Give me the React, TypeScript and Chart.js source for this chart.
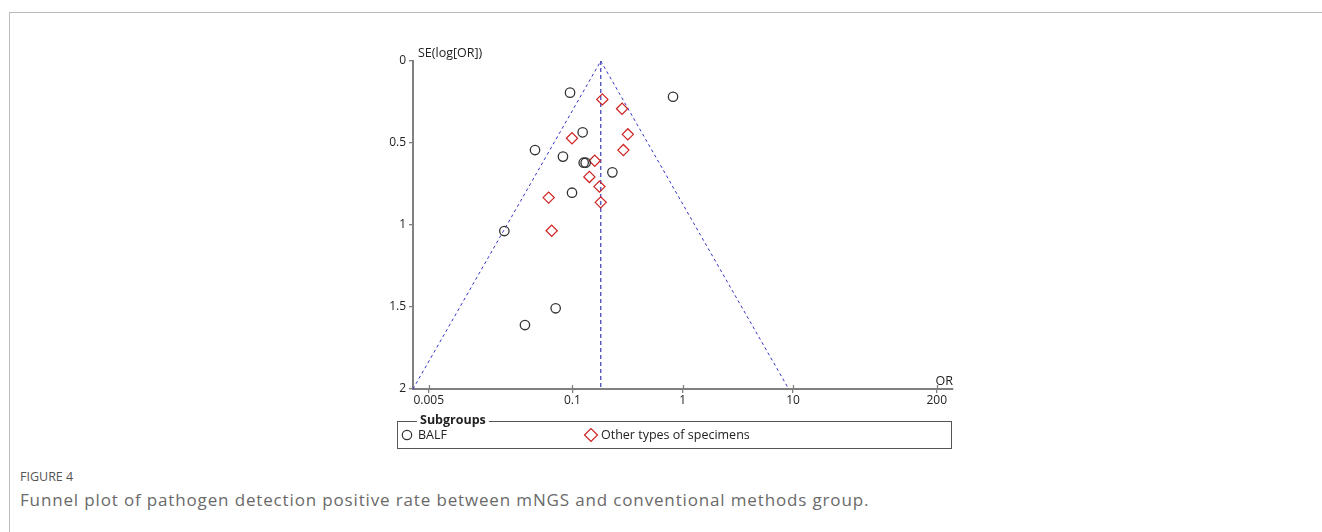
import { useEffect, useRef } from "react";
import { Chart, registerables } from "chart.js";

Chart.register(...registerables);

// ---- data ----
const xTickValues = [0.005, 0.1, 1, 10, 200];
const yTickValues = [0, 0.5, 1, 1.5, 2];
const xTitle = "OR";
const yTitle = "SE(log[OR])";
const legendTitle = "Subgroups";
const seriesNames = ["BALF", "Other types of specimens"];

const balfOR = [0.0953, 0.817, 0.124, 0.0459, 0.0822, 0.1267, 0.132, 0.2305, 0.0993, 0.0242, 0.0706, 0.0372];
const balfSE = [0.193, 0.218, 0.435, 0.543, 0.583, 0.62, 0.62, 0.679, 0.803, 1.037, 1.508, 1.61];

const otherOR = [0.187, 0.282, 0.0993, 0.318, 0.29, 0.1595, 0.1427, 0.176, 0.1807, 0.061, 0.065];
const otherSE = [0.234, 0.291, 0.471, 0.447, 0.543, 0.608, 0.707, 0.766, 0.862, 0.833, 1.035];

const pooledOR = 0.181;
const funnelOR = [0.0036, 0.181, 9.12];
const funnelSE = [2, 0, 2];

const FONT = '"Open Sans", "Noto Sans", sans-serif';
const AXIS_GRAY = "#808080";

const decorPlugin = {
  id: "decor",
  afterDraw(chart: any) {
    const { ctx, chartArea, scales } = chart;
    const xs = scales.x;
    ctx.save();
    // upward part of x tick marks
    ctx.strokeStyle = AXIS_GRAY;
    ctx.lineWidth = 1.3;
    xTickValues.forEach((v) => {
      const px = Math.round(xs.getPixelForValue(v)) + 0.5;
      ctx.beginPath();
      ctx.moveTo(px, chartArea.bottom - 4);
      ctx.lineTo(px, chartArea.bottom);
      ctx.stroke();
    });
    // axis titles
    ctx.fillStyle = "#222";
    ctx.font = `12.5px ${FONT}`;
    ctx.textBaseline = "middle";
    ctx.textAlign = "left";
    ctx.fillText(yTitle, chartArea.left + 5, chartArea.top - 8);
    ctx.textAlign = "right";
    ctx.fillText(xTitle, chartArea.right, chartArea.bottom - 8);

    // legend box
    const bl = chartArea.left - 16;
    const br = chartArea.right - 2;
    const bt = chartArea.bottom + 32;
    const bb = chartArea.bottom + 59;
    ctx.strokeStyle = "#555";
    ctx.lineWidth = 1;
    ctx.strokeRect(Math.round(bl) + 0.5, Math.round(bt) + 0.5, br - bl, bb - bt);
    ctx.font = `bold 12.5px ${FONT}`;
    const tw = ctx.measureText(legendTitle).width;
    ctx.fillStyle = "#fff";
    ctx.fillRect(bl + 20, bt - 3, tw + 6, 7);
    ctx.fillStyle = "#222";
    ctx.textAlign = "left";
    ctx.textBaseline = "middle";
    ctx.fillText(legendTitle, bl + 23, bt - 1);

    const iy = chartArea.bottom + 46;
    // BALF marker
    ctx.strokeStyle = "#333";
    ctx.lineWidth = 1.2;
    ctx.beginPath();
    ctx.arc(bl + 10, iy, 4.7, 0, Math.PI * 2);
    ctx.stroke();
    ctx.font = `12.5px ${FONT}`;
    ctx.fillStyle = "#222";
    ctx.textBaseline = "middle";
    ctx.fillText(seriesNames[0], bl + 21, iy);
    // other marker
    const dx = bl + 194;
    ctx.strokeStyle = "#d02020";
    ctx.beginPath();
    ctx.moveTo(dx - 6.5, iy);
    ctx.lineTo(dx, iy - 6.5);
    ctx.lineTo(dx + 6.5, iy);
    ctx.lineTo(dx, iy + 6.5);
    ctx.closePath();
    ctx.stroke();
    ctx.fillText(seriesNames[1], dx + 10, iy);
    ctx.restore();
  },
};

export default function App() {
  const ref = useRef<HTMLCanvasElement | null>(null);

  useEffect(() => {
    if (!ref.current) return;
    const W = 1322;
    const H = 460;
    const chart = new Chart(ref.current, {
      type: "scatter",
      data: {
        datasets: [
          {
            type: "line",
            data: funnelOR.map((x, i) => ({ x, y: funnelSE[i] })),
            borderColor: "#3434c8",
            borderWidth: 1,
            borderDash: [3, 3],
            pointRadius: 0,
            fill: false,
            clip: false as any,
            order: 3,
          } as any,
          {
            type: "line",
            data: [
              { x: pooledOR, y: 0 },
              { x: pooledOR, y: 2 },
            ],
            borderColor: "#2828a8",
            borderWidth: 1.1,
            borderDash: [4, 3],
            pointRadius: 0,
            fill: false,
            clip: false as any,
            order: 3,
          } as any,
          {
            data: balfOR.map((x, i) => ({ x, y: balfSE[i] })),
            pointStyle: "circle",
            pointRadius: 4.7,
            borderColor: "#333",
            backgroundColor: "rgba(0,0,0,0)",
            borderWidth: 1.3,
            clip: false as any,
            order: 1,
          },
          {
            data: otherOR.map((x, i) => ({ x, y: otherSE[i] })),
            pointStyle: "rectRot",
            pointRadius: 5.6,
            borderColor: "#d02020",
            backgroundColor: "rgba(0,0,0,0)",
            borderWidth: 1.2,
            clip: false as any,
            order: 2,
          },
        ],
      },
      options: {
        responsive: false,
        animation: false,
        events: [],
        layout: {
          padding: { left: 373, top: 61, right: W - 953, bottom: H - 389 - 20 },
        },
        plugins: {
          legend: { display: false },
          tooltip: { enabled: false },
        },
        scales: {
          x: {
            type: "logarithmic",
            min: 0.0036,
            max: 281,
            afterBuildTicks: (s: any) => {
              s.ticks = xTickValues.map((v) => ({ value: v }));
            },
            afterFit: (s: any) => {
              s.height = 20;
            },
            ticks: {
              autoSkip: false,
              maxRotation: 0,
              padding: 0,
              color: "#222",
              font: { family: FONT, size: 12 },
              callback: (v: any) => String(v),
            },
            grid: {
              display: true,
              drawOnChartArea: false,
              drawTicks: true,
              tickLength: 4,
              color: AXIS_GRAY,
              lineWidth: 1.3,
            },
            border: { display: true, color: AXIS_GRAY, width: 2 },
          },
          y: {
            type: "linear",
            reverse: true,
            min: 0,
            max: 2,
            afterBuildTicks: (s: any) => {
              s.ticks = yTickValues.map((v) => ({ value: v }));
            },
            afterFit: (s: any) => {
              s.width = 40;
            },
            ticks: {
              padding: 3,
              color: "#222",
              font: { family: FONT, size: 12 },
              callback: (v: any) => String(v),
            },
            grid: {
              display: true,
              drawOnChartArea: false,
              drawTicks: true,
              tickLength: 4,
              color: AXIS_GRAY,
              lineWidth: 1.3,
            },
            border: { display: true, color: AXIS_GRAY, width: 2 },
          },
        },
      },
      plugins: [decorPlugin],
    });
    return () => chart.destroy();
  }, []);

  return (
    <div
      style={{
        position: "absolute",
        left: 0,
        top: 0,
        width: 1322,
        height: 532,
        overflow: "hidden",
        background: "#fff",
      }}
    >
      <div
        style={{
          position: "absolute",
          left: 9,
          top: 12,
          width: 1320,
          height: 530,
          borderTop: "1px solid #bbb",
          borderLeft: "1px solid #bbb",
        }}
      />
      <canvas
        ref={ref}
        width={1322}
        height={460}
        style={{ position: "absolute", left: 0, top: 0, width: 1322, height: 460 }}
      />
      <div
        style={{
          position: "absolute",
          left: 20,
          top: 469,
          fontFamily: FONT,
          fontSize: 12.5,
          lineHeight: "16px",
          color: "#555",
          whiteSpace: "nowrap",
        }}
      >
        FIGURE 4
      </div>
      <div
        style={{
          position: "absolute",
          left: 20,
          top: 489,
          fontFamily: FONT,
          fontSize: 17,
          letterSpacing: "0.85px",
          lineHeight: "22px",
          color: "#6a6a6a",
          whiteSpace: "nowrap",
        }}
      >
        Funnel plot of pathogen detection positive rate between mNGS and conventional methods group.
      </div>
    </div>
  );
}
